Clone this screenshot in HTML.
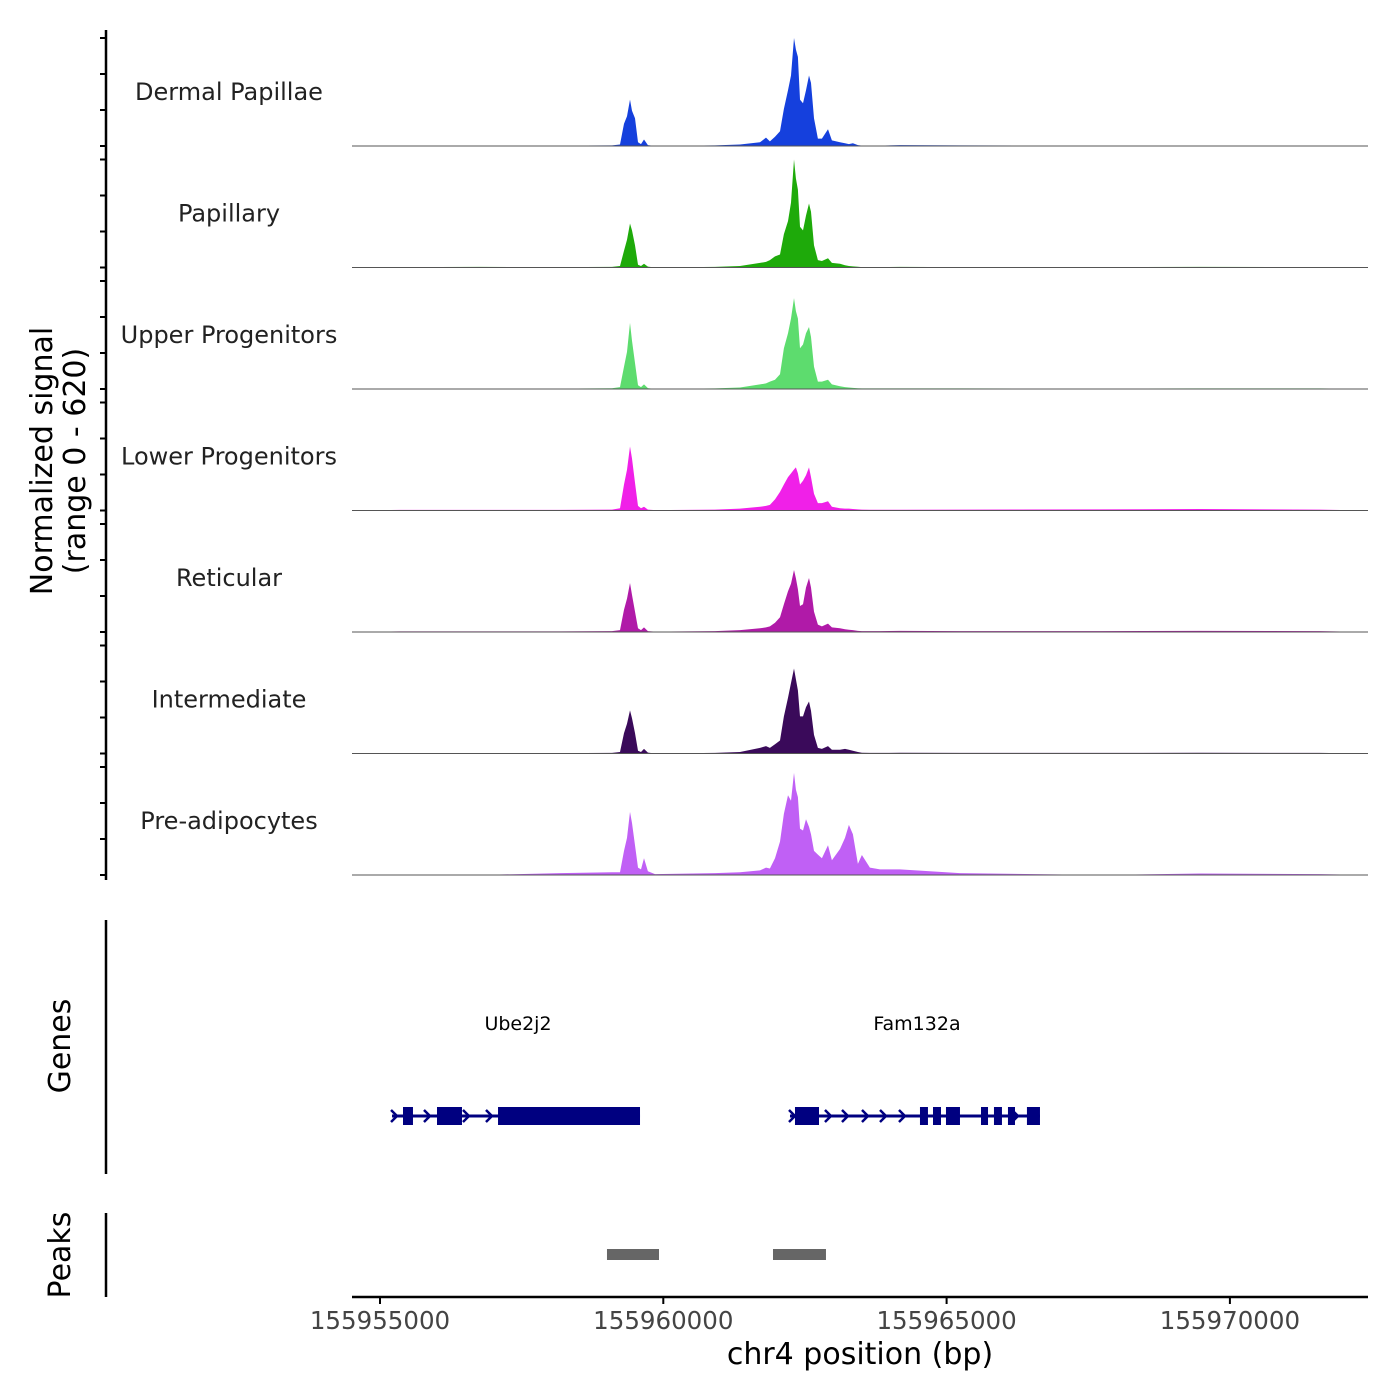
<!DOCTYPE html>
<html><head><meta charset="utf-8">
<style>
html,body{margin:0;padding:0;background:#fff;}
svg{display:block;font-family:"DejaVu Sans","Liberation Sans",sans-serif;}
</style></head>
<body>
<svg id="chart" width="1400" height="1400" viewBox="0 0 1400 1400" xmlns="http://www.w3.org/2000/svg">
  <rect width="1400" height="1400" fill="#fff"/>
  <g id="tracks"></g>
  <line x1="106" y1="30" x2="106" y2="880" stroke="#000" stroke-width="2.5"/>
  <g id="yticks"></g>
  <text transform="translate(52,461) rotate(-90)" text-anchor="middle" font-size="30" fill="#000">Normalized signal</text>
  <text transform="translate(85,461) rotate(-90)" text-anchor="middle" font-size="30" fill="#000">(range 0 - 620)</text>

  <line x1="106" y1="920" x2="106" y2="1174" stroke="#000" stroke-width="2.5"/>
  <text transform="translate(70,1046) rotate(-90)" text-anchor="middle" font-size="30" fill="#000">Genes</text>
  <g id="genes"></g>

  <line x1="106" y1="1213" x2="106" y2="1297" stroke="#000" stroke-width="2.5"/>
  <text transform="translate(70,1255) rotate(-90)" text-anchor="middle" font-size="30" fill="#000">Peaks</text>
  <g id="peaks"></g>

  <line x1="352" y1="1297" x2="1368" y2="1297" stroke="#000" stroke-width="2.5"/>
  <g id="xticks"></g>
  <text x="860" y="1364" text-anchor="middle" font-size="30" fill="#000">chr4 position (bp)</text>
</svg>
<script>
const NS="http://www.w3.org/2000/svg";
const trackNames=["Dermal Papillae","Papillary","Upper Progenitors","Lower Progenitors","Reticular","Intermediate","Pre-adipocytes"];
const trackColors=["#1540dd","#1eaa0a","#5ddc6e","#f020e8","#b01aa8","#3a0a5a","#c060f5"];
const positions=[155954506,155955353,155956765,155958176,155959094,155959235,155959306,155959359,155959412,155959447,155959500,155959553,155959606,155959659,155959729,155959853,155960912,155961353,155961706,155961812,155961882,155961971,155962059,155962129,155962200,155962253,155962306,155962341,155962376,155962412,155962465,155962518,155962571,155962606,155962659,155962729,155962800,155962906,155962976,155963118,155963206,155963276,155963347,155963435,155963506,155963647,155963824,155964176,155965235,155967706,155969470,155971588,155972435];
const dermalPapillae=[0,2,2,2,3,8,120,160,250,190,150,20,10,35,5,0,3,8,20,45,25,50,80,200,300,380,582,520,480,250,230,300,380,340,150,40,40,90,30,20,15,10,15,5,2,2,2,5,3,2,2,2,0];
const papillary=[0,2,3,2,3,8,90,150,237,200,120,15,8,20,5,0,3,8,25,30,40,60,70,180,250,350,582,480,420,220,200,280,345,300,120,40,35,50,25,20,12,8,6,4,2,2,2,3,2,2,3,2,0];
const upperProgenitors=[0,2,2,2,4,10,120,200,356,260,140,20,10,25,5,0,3,8,25,30,40,50,80,220,300,380,490,420,380,220,240,300,334,280,120,40,40,50,25,15,10,8,6,4,3,3,3,3,3,2,3,3,0];
const lowerProgenitors=[0,3,3,3,5,12,140,220,345,280,150,25,12,20,5,2,5,10,20,25,30,60,100,140,180,200,221,232,200,140,160,190,232,180,90,40,40,50,20,12,10,10,8,6,5,4,4,4,5,6,8,5,0];
const reticular=[0,3,3,3,5,10,120,180,264,200,110,20,10,25,5,2,5,10,20,25,30,50,80,150,220,260,334,290,230,140,150,240,291,240,110,40,30,45,25,20,15,12,10,6,5,5,5,6,5,5,6,5,0];
const intermediate=[0,2,2,2,3,8,110,160,232,190,110,15,8,25,5,0,3,8,30,40,30,50,70,200,300,380,458,400,340,200,200,250,280,230,100,30,25,40,20,20,25,20,15,8,4,3,3,4,3,3,4,3,0];
const preAdipocytes=[0,0,0,10,15,15,130,200,340,280,160,40,30,90,20,5,10,15,25,40,35,90,180,330,430,400,550,460,420,250,240,300,260,220,130,110,90,160,80,140,200,270,220,60,108,40,30,30,10,0,8,5,0];
const series=[dermalPapillae,papillary,upperProgenitors,lowerProgenitors,reticular,intermediate,preAdipocytes];
const xTicks=[155955000,155960000,155965000,155970000];
const xTickLabels=["155955000","155960000","155965000","155970000"];
const geneNames=["Ube2j2","Fam132a"];
const geneStarts=[155955212,155962236];
const geneEnds=[155959589,155966648];
const geneArrows=[[155955265,155955847,155956535,155956941],[155962289,155962924,155963224,155963577,155963895,155964230,155966225]];
const exonStarts=[155955406,155956006,155957083,155962324,155964530,155964760,155964989,155965607,155965836,155966083,155966418];
const exonEnds=[155955582,155956447,155959589,155962748,155964671,155964901,155965236,155965731,155965977,155966207,155966648];
const peakStarts=[155959006,155961936];
const peakEnds=[155959924,155962871];

const BP0=155955000, PX0=380, PXPERBP=283.3/5000;
const xs=bp=>PX0+(bp-BP0)*PXPERBP;
const YSCALE=108/582;
const baseline=i=>146+i*121.5;
const ys=(i,v)=>baseline(i)-v*YSCALE;

function mk(tag,attrs,parent){const e=document.createElementNS(NS,tag);for(const k in attrs)e.setAttribute(k,attrs[k]);parent.appendChild(e);return e;}

const tracks=document.getElementById('tracks');
series.forEach((vals,i)=>{
  let d=`M${xs(positions[0])},${baseline(i)}`;
  vals.forEach((v,j)=>{d+=` L${xs(positions[j]).toFixed(1)},${ys(i,v).toFixed(1)}`;});
  d+=` L${xs(positions[positions.length-1])},${baseline(i)} Z`;
  const p=mk('path',{d:d,fill:trackColors[i]},tracks);
  
  
  const l=mk('line',{x1:352,x2:1368,y1:baseline(i),y2:baseline(i),stroke:'#555','stroke-width':1},tracks);
  
  
  const t=mk('text',{x:229,y:baseline(i)-46,'text-anchor':'middle','font-size':24,fill:'#222'},tracks);
  t.textContent=trackNames[i];
  
  
});
const yt=document.getElementById('yticks');
for(let i=0;i<7;i++){for(let k=0;k<4;k++){
  const y=baseline(i)-k*36;
  const l=mk('line',{x1:100,x2:106,y1:y,y2:y,stroke:'#000','stroke-width':2},yt);
  
  
}}
const xt=document.getElementById('xticks');
xTicks.forEach((b,i)=>{
  const l=mk('line',{x1:xs(b),x2:xs(b),y1:1297,y2:1304,stroke:'#000','stroke-width':2},xt);
  
  
  const t=mk('text',{x:xs(b),y:1329,'text-anchor':'middle','font-size':24.5,fill:'#444'},xt);
  t.textContent=xTickLabels[i];
  
  
});
const gg=document.getElementById('genes');
const GY=1116;
geneNames.forEach((n,i)=>{
  const l=mk('line',{x1:xs(geneStarts[i]),x2:xs(geneEnds[i]),y1:GY,y2:GY,stroke:'#000080','stroke-width':3},gg);
  
  
  const t=mk('text',{x:(xs(geneStarts[i])+xs(geneEnds[i]))/2+2,y:1030,'text-anchor':'middle','font-size':19,fill:'#000'},gg);
  t.textContent=n;
  
  
  geneArrows[i].forEach(a=>{
    const x=xs(a);
    const c=mk('polyline',{points:`${x-4},${GY-6} ${x+2},${GY} ${x-4},${GY+6}`,fill:'none',stroke:'#000080','stroke-width':2.5},gg);
    
    
  });
});
exonStarts.forEach((s,i)=>{
  const r=mk('rect',{x:xs(s),y:GY-9,width:xs(exonEnds[i])-xs(s),height:18,fill:'#000080'},gg);
  
  
});
const pg=document.getElementById('peaks');
peakStarts.forEach((s,i)=>{
  const r=mk('rect',{x:xs(s),y:1249,width:xs(peakEnds[i])-xs(s),height:11,fill:'#666'},pg);
  
  
});
</script>
</body></html>
